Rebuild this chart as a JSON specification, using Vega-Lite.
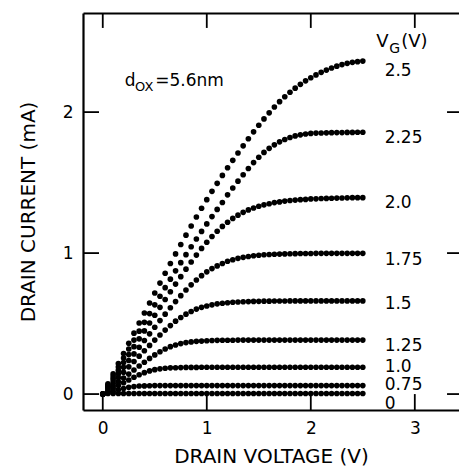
{
"$schema": "https://vega.github.io/schema/vega-lite/v6.json",
"width": 376, "height": 397,
"autosize": {"type": "none"},
"padding": {"left": 83, "top": 13, "right": 0, "bottom": 60},
"background": "white",
"config": {
 "font": "DejaVu Sans",
 "view": {"stroke": null},
 "axis": {"grid": false, "domainColor": "black", "tickColor": "black", "labelColor": "black", "titleColor": "black", "labelFont": "DejaVu Sans", "titleFont": "DejaVu Sans", "labelFontSize": 17, "titleFontSize": 20, "titleFontWeight": "normal", "domainWidth": 2.2, "tickWidth": 1.8}
},
"datasets": {
 "curves": [
{"g":2.5,"v":0,"i":0},{"g":2.5,"v":0.05,"i":0.072},{"g":2.5,"v":0.1,"i":0.144},{"g":2.5,"v":0.15,"i":0.216},{"g":2.5,"v":0.2,"i":0.288},{"g":2.5,"v":0.25,"i":0.36},{"g":2.5,"v":0.3,"i":0.432},{"g":2.5,"v":0.35,"i":0.504},{"g":2.5,"v":0.4,"i":0.575},{"g":2.5,"v":0.45,"i":0.646},
{"g":2.5,"v":0.5,"i":0.717},{"g":2.5,"v":0.55,"i":0.787},{"g":2.5,"v":0.6,"i":0.857},{"g":2.5,"v":0.65,"i":0.926},{"g":2.5,"v":0.7,"i":0.994},{"g":2.5,"v":0.75,"i":1.061},{"g":2.5,"v":0.8,"i":1.127},{"g":2.5,"v":0.85,"i":1.192},{"g":2.5,"v":0.9,"i":1.256},{"g":2.5,"v":0.95,"i":1.318},
{"g":2.5,"v":1,"i":1.379},{"g":2.5,"v":1.05,"i":1.438},{"g":2.5,"v":1.1,"i":1.495},{"g":2.5,"v":1.15,"i":1.551},{"g":2.5,"v":1.2,"i":1.605},{"g":2.5,"v":1.25,"i":1.658},{"g":2.5,"v":1.3,"i":1.71},{"g":2.5,"v":1.35,"i":1.761},{"g":2.5,"v":1.4,"i":1.811},{"g":2.5,"v":1.45,"i":1.86},
{"g":2.5,"v":1.5,"i":1.907},{"g":2.5,"v":1.55,"i":1.952},{"g":2.5,"v":1.6,"i":1.995},{"g":2.5,"v":1.65,"i":2.036},{"g":2.5,"v":1.7,"i":2.074},{"g":2.5,"v":1.75,"i":2.109},{"g":2.5,"v":1.8,"i":2.141},{"g":2.5,"v":1.85,"i":2.17},{"g":2.5,"v":1.9,"i":2.197},{"g":2.5,"v":1.95,"i":2.222},
{"g":2.5,"v":2,"i":2.244},{"g":2.5,"v":2.05,"i":2.264},{"g":2.5,"v":2.1,"i":2.282},{"g":2.5,"v":2.15,"i":2.298},{"g":2.5,"v":2.2,"i":2.313},{"g":2.5,"v":2.25,"i":2.326},{"g":2.5,"v":2.3,"i":2.337},{"g":2.5,"v":2.35,"i":2.346},{"g":2.5,"v":2.4,"i":2.353},{"g":2.5,"v":2.45,"i":2.358},{"g":2.5,"v":2.5,"i":2.362},

{"g":2.25,"v":0,"i":0},{"g":2.25,"v":0.05,"i":0.064},{"g":2.25,"v":0.1,"i":0.128},{"g":2.25,"v":0.15,"i":0.192},{"g":2.25,"v":0.2,"i":0.256},{"g":2.25,"v":0.25,"i":0.32},{"g":2.25,"v":0.3,"i":0.383},{"g":2.25,"v":0.35,"i":0.446},{"g":2.25,"v":0.4,"i":0.509},{"g":2.25,"v":0.45,"i":0.571},
{"g":2.25,"v":0.5,"i":0.633},{"g":2.25,"v":0.55,"i":0.694},{"g":2.25,"v":0.6,"i":0.755},{"g":2.25,"v":0.65,"i":0.815},{"g":2.25,"v":0.7,"i":0.874},{"g":2.25,"v":0.75,"i":0.932},{"g":2.25,"v":0.8,"i":0.989},{"g":2.25,"v":0.85,"i":1.045},{"g":2.25,"v":0.9,"i":1.1},{"g":2.25,"v":0.95,"i":1.154},
{"g":2.25,"v":1,"i":1.207},{"g":2.25,"v":1.05,"i":1.259},{"g":2.25,"v":1.1,"i":1.31},{"g":2.25,"v":1.15,"i":1.359},{"g":2.25,"v":1.2,"i":1.413},{"g":2.25,"v":1.25,"i":1.462},{"g":2.25,"v":1.3,"i":1.51},{"g":2.25,"v":1.35,"i":1.556},{"g":2.25,"v":1.4,"i":1.6},{"g":2.25,"v":1.45,"i":1.642},
{"g":2.25,"v":1.5,"i":1.68},{"g":2.25,"v":1.55,"i":1.714},{"g":2.25,"v":1.6,"i":1.743},{"g":2.25,"v":1.65,"i":1.768},{"g":2.25,"v":1.7,"i":1.789},{"g":2.25,"v":1.75,"i":1.806},{"g":2.25,"v":1.8,"i":1.82},{"g":2.25,"v":1.85,"i":1.831},{"g":2.25,"v":1.9,"i":1.839},{"g":2.25,"v":1.95,"i":1.845},
{"g":2.25,"v":2,"i":1.849},{"g":2.25,"v":2.05,"i":1.851},{"g":2.25,"v":2.1,"i":1.852},{"g":2.25,"v":2.15,"i":1.853},{"g":2.25,"v":2.2,"i":1.854},{"g":2.25,"v":2.25,"i":1.855},{"g":2.25,"v":2.3,"i":1.855},{"g":2.25,"v":2.35,"i":1.856},{"g":2.25,"v":2.4,"i":1.856},{"g":2.25,"v":2.45,"i":1.857},{"g":2.25,"v":2.5,"i":1.857},

{"g":2.0,"v":0,"i":0},{"g":2.0,"v":0.05,"i":0.056},{"g":2.0,"v":0.1,"i":0.112},{"g":2.0,"v":0.15,"i":0.168},{"g":2.0,"v":0.2,"i":0.224},{"g":2.0,"v":0.25,"i":0.28},{"g":2.0,"v":0.3,"i":0.336},{"g":2.0,"v":0.35,"i":0.392},{"g":2.0,"v":0.4,"i":0.448},{"g":2.0,"v":0.45,"i":0.504},
{"g":2.0,"v":0.5,"i":0.559},{"g":2.0,"v":0.55,"i":0.615},{"g":2.0,"v":0.6,"i":0.671},{"g":2.0,"v":0.65,"i":0.726},{"g":2.0,"v":0.7,"i":0.78},{"g":2.0,"v":0.75,"i":0.833},{"g":2.0,"v":0.8,"i":0.886},{"g":2.0,"v":0.85,"i":0.937},{"g":2.0,"v":0.9,"i":0.986},{"g":2.0,"v":0.95,"i":1.033},
{"g":2.0,"v":1,"i":1.077},{"g":2.0,"v":1.05,"i":1.118},{"g":2.0,"v":1.1,"i":1.155},{"g":2.0,"v":1.15,"i":1.189},{"g":2.0,"v":1.2,"i":1.219},{"g":2.0,"v":1.25,"i":1.246},{"g":2.0,"v":1.3,"i":1.269},{"g":2.0,"v":1.35,"i":1.289},{"g":2.0,"v":1.4,"i":1.306},{"g":2.0,"v":1.45,"i":1.32},
{"g":2.0,"v":1.5,"i":1.332},{"g":2.0,"v":1.55,"i":1.342},{"g":2.0,"v":1.6,"i":1.35},{"g":2.0,"v":1.65,"i":1.358},{"g":2.0,"v":1.7,"i":1.363},{"g":2.0,"v":1.75,"i":1.369},{"g":2.0,"v":1.8,"i":1.373},{"g":2.0,"v":1.85,"i":1.376},{"g":2.0,"v":1.9,"i":1.379},{"g":2.0,"v":1.95,"i":1.381},
{"g":2.0,"v":2,"i":1.384},{"g":2.0,"v":2.05,"i":1.385},{"g":2.0,"v":2.1,"i":1.387},{"g":2.0,"v":2.15,"i":1.388},{"g":2.0,"v":2.2,"i":1.389},{"g":2.0,"v":2.25,"i":1.39},{"g":2.0,"v":2.3,"i":1.391},{"g":2.0,"v":2.35,"i":1.392},{"g":2.0,"v":2.4,"i":1.393},{"g":2.0,"v":2.45,"i":1.393},{"g":2.0,"v":2.5,"i":1.393},

{"g":1.75,"v":0,"i":0},{"g":1.75,"v":0.05,"i":0.048},{"g":1.75,"v":0.1,"i":0.095},{"g":1.75,"v":0.15,"i":0.143},{"g":1.75,"v":0.2,"i":0.19},{"g":1.75,"v":0.25,"i":0.238},{"g":1.75,"v":0.3,"i":0.285},{"g":1.75,"v":0.35,"i":0.332},{"g":1.75,"v":0.4,"i":0.38},{"g":1.75,"v":0.45,"i":0.427},
{"g":1.75,"v":0.5,"i":0.474},{"g":1.75,"v":0.55,"i":0.521},{"g":1.75,"v":0.6,"i":0.567},{"g":1.75,"v":0.65,"i":0.612},{"g":1.75,"v":0.7,"i":0.656},{"g":1.75,"v":0.75,"i":0.698},{"g":1.75,"v":0.8,"i":0.738},{"g":1.75,"v":0.85,"i":0.775},{"g":1.75,"v":0.9,"i":0.809},{"g":1.75,"v":0.95,"i":0.84},
{"g":1.75,"v":1,"i":0.867},{"g":1.75,"v":1.05,"i":0.89},{"g":1.75,"v":1.1,"i":0.909},{"g":1.75,"v":1.15,"i":0.926},{"g":1.75,"v":1.2,"i":0.942},{"g":1.75,"v":1.25,"i":0.953},{"g":1.75,"v":1.3,"i":0.963},{"g":1.75,"v":1.35,"i":0.97},{"g":1.75,"v":1.4,"i":0.976},{"g":1.75,"v":1.45,"i":0.981},
{"g":1.75,"v":1.5,"i":0.985},{"g":1.75,"v":1.55,"i":0.988},{"g":1.75,"v":1.6,"i":0.99},{"g":1.75,"v":1.65,"i":0.992},{"g":1.75,"v":1.7,"i":0.993},{"g":1.75,"v":1.75,"i":0.994},{"g":1.75,"v":1.8,"i":0.995},{"g":1.75,"v":1.85,"i":0.996},{"g":1.75,"v":1.9,"i":0.997},{"g":1.75,"v":1.95,"i":0.997},
{"g":1.75,"v":2,"i":0.997},{"g":1.75,"v":2.05,"i":0.998},{"g":1.75,"v":2.1,"i":0.998},{"g":1.75,"v":2.15,"i":0.998},{"g":1.75,"v":2.2,"i":0.998},{"g":1.75,"v":2.25,"i":0.998},{"g":1.75,"v":2.3,"i":0.998},{"g":1.75,"v":2.35,"i":0.998},{"g":1.75,"v":2.4,"i":0.998},{"g":1.75,"v":2.45,"i":0.998},{"g":1.75,"v":2.5,"i":0.998},

{"g":1.5,"v":0,"i":0},{"g":1.5,"v":0.05,"i":0.039},{"g":1.5,"v":0.1,"i":0.077},{"g":1.5,"v":0.15,"i":0.116},{"g":1.5,"v":0.2,"i":0.154},{"g":1.5,"v":0.25,"i":0.193},{"g":1.5,"v":0.3,"i":0.231},{"g":1.5,"v":0.35,"i":0.269},{"g":1.5,"v":0.4,"i":0.307},{"g":1.5,"v":0.45,"i":0.345},
{"g":1.5,"v":0.5,"i":0.383},{"g":1.5,"v":0.55,"i":0.419},{"g":1.5,"v":0.6,"i":0.454},{"g":1.5,"v":0.65,"i":0.486},{"g":1.5,"v":0.7,"i":0.517},{"g":1.5,"v":0.75,"i":0.543},{"g":1.5,"v":0.8,"i":0.567},{"g":1.5,"v":0.85,"i":0.586},{"g":1.5,"v":0.9,"i":0.603},{"g":1.5,"v":0.95,"i":0.615},
{"g":1.5,"v":1,"i":0.625},{"g":1.5,"v":1.05,"i":0.633},{"g":1.5,"v":1.1,"i":0.64},{"g":1.5,"v":1.15,"i":0.644},{"g":1.5,"v":1.2,"i":0.648},{"g":1.5,"v":1.25,"i":0.651},{"g":1.5,"v":1.3,"i":0.653},{"g":1.5,"v":1.35,"i":0.655},{"g":1.5,"v":1.4,"i":0.656},{"g":1.5,"v":1.45,"i":0.657},
{"g":1.5,"v":1.5,"i":0.658},{"g":1.5,"v":1.55,"i":0.659},{"g":1.5,"v":1.6,"i":0.659},{"g":1.5,"v":1.65,"i":0.66},{"g":1.5,"v":1.7,"i":0.66},{"g":1.5,"v":1.75,"i":0.66},{"g":1.5,"v":1.8,"i":0.661},{"g":1.5,"v":1.85,"i":0.661},{"g":1.5,"v":1.9,"i":0.661},{"g":1.5,"v":1.95,"i":0.661},
{"g":1.5,"v":2,"i":0.661},{"g":1.5,"v":2.05,"i":0.661},{"g":1.5,"v":2.1,"i":0.661},{"g":1.5,"v":2.15,"i":0.661},{"g":1.5,"v":2.2,"i":0.661},{"g":1.5,"v":2.25,"i":0.661},{"g":1.5,"v":2.3,"i":0.661},{"g":1.5,"v":2.35,"i":0.661},{"g":1.5,"v":2.4,"i":0.661},{"g":1.5,"v":2.45,"i":0.661},{"g":1.5,"v":2.5,"i":0.661},

{"g":1.25,"v":0,"i":0},{"g":1.25,"v":0.05,"i":0.029},{"g":1.25,"v":0.1,"i":0.057},{"g":1.25,"v":0.15,"i":0.086},{"g":1.25,"v":0.2,"i":0.114},{"g":1.25,"v":0.25,"i":0.142},{"g":1.25,"v":0.3,"i":0.171},{"g":1.25,"v":0.35,"i":0.199},{"g":1.25,"v":0.4,"i":0.226},{"g":1.25,"v":0.45,"i":0.253},
{"g":1.25,"v":0.5,"i":0.278},{"g":1.25,"v":0.55,"i":0.3},{"g":1.25,"v":0.6,"i":0.32},{"g":1.25,"v":0.65,"i":0.336},{"g":1.25,"v":0.7,"i":0.348},{"g":1.25,"v":0.75,"i":0.358},{"g":1.25,"v":0.8,"i":0.365},{"g":1.25,"v":0.85,"i":0.37},{"g":1.25,"v":0.9,"i":0.374},{"g":1.25,"v":0.95,"i":0.376},
{"g":1.25,"v":1,"i":0.378},{"g":1.25,"v":1.05,"i":0.38},{"g":1.25,"v":1.1,"i":0.381},{"g":1.25,"v":1.15,"i":0.382},{"g":1.25,"v":1.2,"i":0.382},{"g":1.25,"v":1.25,"i":0.382},{"g":1.25,"v":1.3,"i":0.383},{"g":1.25,"v":1.35,"i":0.383},{"g":1.25,"v":1.4,"i":0.383},{"g":1.25,"v":1.45,"i":0.383},
{"g":1.25,"v":1.5,"i":0.383},{"g":1.25,"v":1.55,"i":0.383},{"g":1.25,"v":1.6,"i":0.383},{"g":1.25,"v":1.65,"i":0.383},{"g":1.25,"v":1.7,"i":0.383},{"g":1.25,"v":1.75,"i":0.383},{"g":1.25,"v":1.8,"i":0.383},{"g":1.25,"v":1.85,"i":0.383},{"g":1.25,"v":1.9,"i":0.383},{"g":1.25,"v":1.95,"i":0.383},
{"g":1.25,"v":2,"i":0.383},{"g":1.25,"v":2.05,"i":0.383},{"g":1.25,"v":2.1,"i":0.383},{"g":1.25,"v":2.15,"i":0.383},{"g":1.25,"v":2.2,"i":0.383},{"g":1.25,"v":2.25,"i":0.383},{"g":1.25,"v":2.3,"i":0.383},{"g":1.25,"v":2.35,"i":0.383},{"g":1.25,"v":2.4,"i":0.383},{"g":1.25,"v":2.45,"i":0.383},{"g":1.25,"v":2.5,"i":0.383},

{"g":1.0,"v":0,"i":0},{"g":1.0,"v":0.05,"i":0.02},{"g":1.0,"v":0.1,"i":0.04},{"g":1.0,"v":0.15,"i":0.06},{"g":1.0,"v":0.2,"i":0.08},{"g":1.0,"v":0.25,"i":0.1},{"g":1.0,"v":0.3,"i":0.119},{"g":1.0,"v":0.35,"i":0.137},{"g":1.0,"v":0.4,"i":0.152},{"g":1.0,"v":0.45,"i":0.164},
{"g":1.0,"v":0.5,"i":0.173},{"g":1.0,"v":0.55,"i":0.179},{"g":1.0,"v":0.6,"i":0.183},{"g":1.0,"v":0.65,"i":0.186},{"g":1.0,"v":0.7,"i":0.187},{"g":1.0,"v":0.75,"i":0.188},{"g":1.0,"v":0.8,"i":0.189},{"g":1.0,"v":0.85,"i":0.189},{"g":1.0,"v":0.9,"i":0.189},{"g":1.0,"v":0.95,"i":0.19},
{"g":1.0,"v":1,"i":0.19},{"g":1.0,"v":1.05,"i":0.19},{"g":1.0,"v":1.1,"i":0.19},{"g":1.0,"v":1.15,"i":0.19},{"g":1.0,"v":1.2,"i":0.19},{"g":1.0,"v":1.25,"i":0.19},{"g":1.0,"v":1.3,"i":0.19},{"g":1.0,"v":1.35,"i":0.19},{"g":1.0,"v":1.4,"i":0.19},{"g":1.0,"v":1.45,"i":0.19},
{"g":1.0,"v":1.5,"i":0.19},{"g":1.0,"v":1.55,"i":0.19},{"g":1.0,"v":1.6,"i":0.19},{"g":1.0,"v":1.65,"i":0.19},{"g":1.0,"v":1.7,"i":0.19},{"g":1.0,"v":1.75,"i":0.19},{"g":1.0,"v":1.8,"i":0.19},{"g":1.0,"v":1.85,"i":0.19},{"g":1.0,"v":1.9,"i":0.19},{"g":1.0,"v":1.95,"i":0.19},
{"g":1.0,"v":2,"i":0.19},{"g":1.0,"v":2.05,"i":0.19},{"g":1.0,"v":2.1,"i":0.19},{"g":1.0,"v":2.15,"i":0.19},{"g":1.0,"v":2.2,"i":0.19},{"g":1.0,"v":2.25,"i":0.19},{"g":1.0,"v":2.3,"i":0.19},{"g":1.0,"v":2.35,"i":0.19},{"g":1.0,"v":2.4,"i":0.19},{"g":1.0,"v":2.45,"i":0.19},{"g":1.0,"v":2.5,"i":0.19},

{"g":0.75,"v":0,"i":0},{"g":0.75,"v":0.05,"i":0.01},{"g":0.75,"v":0.1,"i":0.02},{"g":0.75,"v":0.15,"i":0.03},{"g":0.75,"v":0.2,"i":0.039},{"g":0.75,"v":0.25,"i":0.048},{"g":0.75,"v":0.3,"i":0.053},{"g":0.75,"v":0.35,"i":0.057},{"g":0.75,"v":0.4,"i":0.058},{"g":0.75,"v":0.45,"i":0.059},
{"g":0.75,"v":0.5,"i":0.06},{"g":0.75,"v":0.55,"i":0.06},{"g":0.75,"v":0.6,"i":0.06},{"g":0.75,"v":0.65,"i":0.06},{"g":0.75,"v":0.7,"i":0.06},{"g":0.75,"v":0.75,"i":0.06},{"g":0.75,"v":0.8,"i":0.06},{"g":0.75,"v":0.85,"i":0.06},{"g":0.75,"v":0.9,"i":0.06},{"g":0.75,"v":0.95,"i":0.06},
{"g":0.75,"v":1,"i":0.06},{"g":0.75,"v":1.05,"i":0.06},{"g":0.75,"v":1.1,"i":0.06},{"g":0.75,"v":1.15,"i":0.06},{"g":0.75,"v":1.2,"i":0.06},{"g":0.75,"v":1.25,"i":0.06},{"g":0.75,"v":1.3,"i":0.06},{"g":0.75,"v":1.35,"i":0.06},{"g":0.75,"v":1.4,"i":0.06},{"g":0.75,"v":1.45,"i":0.06},
{"g":0.75,"v":1.5,"i":0.06},{"g":0.75,"v":1.55,"i":0.06},{"g":0.75,"v":1.6,"i":0.06},{"g":0.75,"v":1.65,"i":0.06},{"g":0.75,"v":1.7,"i":0.06},{"g":0.75,"v":1.75,"i":0.06},{"g":0.75,"v":1.8,"i":0.06},{"g":0.75,"v":1.85,"i":0.06},{"g":0.75,"v":1.9,"i":0.06},{"g":0.75,"v":1.95,"i":0.06},
{"g":0.75,"v":2,"i":0.06},{"g":0.75,"v":2.05,"i":0.06},{"g":0.75,"v":2.1,"i":0.06},{"g":0.75,"v":2.15,"i":0.06},{"g":0.75,"v":2.2,"i":0.06},{"g":0.75,"v":2.25,"i":0.06},{"g":0.75,"v":2.3,"i":0.06},{"g":0.75,"v":2.35,"i":0.06},{"g":0.75,"v":2.4,"i":0.06},{"g":0.75,"v":2.45,"i":0.06},{"g":0.75,"v":2.5,"i":0.06},

{"g":0,"v":0,"i":0},{"g":0,"v":0.05,"i":0.004},{"g":0,"v":0.1,"i":0.004},{"g":0,"v":0.15,"i":0.004},{"g":0,"v":0.2,"i":0.004},{"g":0,"v":0.25,"i":0.004},{"g":0,"v":0.3,"i":0.004},{"g":0,"v":0.35,"i":0.004},{"g":0,"v":0.4,"i":0.004},{"g":0,"v":0.45,"i":0.004},
{"g":0,"v":0.5,"i":0.004},{"g":0,"v":0.55,"i":0.004},{"g":0,"v":0.6,"i":0.004},{"g":0,"v":0.65,"i":0.004},{"g":0,"v":0.7,"i":0.004},{"g":0,"v":0.75,"i":0.004},{"g":0,"v":0.8,"i":0.004},{"g":0,"v":0.85,"i":0.004},{"g":0,"v":0.9,"i":0.004},{"g":0,"v":0.95,"i":0.004},
{"g":0,"v":1,"i":0.004},{"g":0,"v":1.05,"i":0.004},{"g":0,"v":1.1,"i":0.004},{"g":0,"v":1.15,"i":0.004},{"g":0,"v":1.2,"i":0.004},{"g":0,"v":1.25,"i":0.004},{"g":0,"v":1.3,"i":0.004},{"g":0,"v":1.35,"i":0.004},{"g":0,"v":1.4,"i":0.004},{"g":0,"v":1.45,"i":0.004},
{"g":0,"v":1.5,"i":0.004},{"g":0,"v":1.55,"i":0.004},{"g":0,"v":1.6,"i":0.004},{"g":0,"v":1.65,"i":0.004},{"g":0,"v":1.7,"i":0.004},{"g":0,"v":1.75,"i":0.004},{"g":0,"v":1.8,"i":0.004},{"g":0,"v":1.85,"i":0.004},{"g":0,"v":1.9,"i":0.004},{"g":0,"v":1.95,"i":0.004},
{"g":0,"v":2,"i":0.004},{"g":0,"v":2.05,"i":0.004},{"g":0,"v":2.1,"i":0.004},{"g":0,"v":2.15,"i":0.004},{"g":0,"v":2.2,"i":0.004},{"g":0,"v":2.25,"i":0.004},{"g":0,"v":2.3,"i":0.004},{"g":0,"v":2.35,"i":0.004},{"g":0,"v":2.4,"i":0.004},{"g":0,"v":2.45,"i":0.004},{"g":0,"v":2.5,"i":0.004}
 ],
 "xticks": [{"v":0},{"v":1},{"v":2},{"v":3}],
 "yticks": [{"i":0},{"i":1},{"i":2}],
 "vglabels": [
  {"x":2.71,"y":2.255,"t":"2.5"},{"x":2.71,"y":1.783,"t":"2.25"},{"x":2.71,"y":1.32,"t":"2.0"},{"x":2.71,"y":0.915,"t":"1.75"},{"x":2.71,"y":0.603,"t":"1.5"},{"x":2.71,"y":0.308,"t":"1.25"},{"x":2.71,"y":0.155,"t":"1.0"},{"x":2.71,"y":0.031,"t":"0.75"},{"x":2.71,"y":-0.107,"t":"0"}
 ],
 "vgtitle": [
  {"x":2.63,"y":2.461,"t":"V"},{"x":2.87,"y":2.461,"t":"(V)"}
 ],
 "vgsub": [
  {"x":2.755,"y":2.42,"t":"G"}
 ],
 "doxtext": [
  {"x":0.212,"y":2.184,"t":"d"},{"x":0.505,"y":2.184,"t":"=5.6nm"}
 ],
 "doxsub": [
  {"x":0.31,"y":2.149,"t":"OX"}
 ]
},
"resolve": {"axis": {"x": "independent", "y": "independent"}},
"layer": [
 {
  "data": {"name": "curves"},
  "mark": {"type": "circle", "size": 32, "color": "black", "opacity": 1},
  "encoding": {
   "x": {"field": "v", "type": "quantitative", "scale": {"domain": [-0.19, 3.425], "nice": false, "zero": false},
         "axis": {"orient": "bottom", "values": [0, 1, 2, 3], "format": "d", "tickSize": -16, "tickOpacity": 0, "labelPadding": 26, "title": "DRAIN VOLTAGE (V)", "titlePadding": 10, "labelFlush": false}},
   "y": {"field": "i", "type": "quantitative", "scale": {"domain": [-0.113, 2.703], "nice": false, "zero": false},
         "axis": {"orient": "left", "values": [0, 1, 2], "format": "d", "tickSize": -16, "tickOpacity": 0, "labelPadding": 26, "title": "DRAIN CURRENT (mA)", "titlePadding": 24, "labelFlush": false}}
  }
 },
 {
  "data": {"name": "xticks"},
  "mark": {"type": "point", "opacity": 0},
  "encoding": {
   "x": {"field": "v", "type": "quantitative", "scale": {"domain": [-0.19, 3.425], "nice": false, "zero": false},
         "axis": {"orient": "top", "values": [0, 1, 2, 3], "ticks": false, "labels": false, "title": null}}
  }
 },
 {
  "data": {"name": "xticks"},
  "mark": {"type": "rule", "color": "black", "strokeWidth": 1.8},
  "encoding": {
   "x": {"field": "v", "type": "quantitative", "scale": {"domain": [-0.19, 3.425], "nice": false, "zero": false}, "axis": null},
   "y": {"datum": 2.703, "type": "quantitative", "scale": {"domain": [-0.113, 2.703], "nice": false, "zero": false}, "axis": null},
   "y2": {"datum": 2.597}
  }
 },
 {
  "data": {"name": "xticks"},
  "mark": {"type": "rule", "color": "black", "strokeWidth": 1.8},
  "encoding": {
   "x": {"field": "v", "type": "quantitative", "scale": {"domain": [-0.19, 3.425], "nice": false, "zero": false}, "axis": null},
   "y": {"datum": -0.113, "type": "quantitative", "scale": {"domain": [-0.113, 2.703], "nice": false, "zero": false}, "axis": null},
   "y2": {"datum": 0.0}
  }
 },
 {
  "data": {"name": "yticks"},
  "mark": {"type": "rule", "color": "black", "strokeWidth": 1.8},
  "encoding": {
   "y": {"field": "i", "type": "quantitative", "scale": {"domain": [-0.113, 2.703], "nice": false, "zero": false}, "axis": null},
   "x": {"datum": -0.19, "type": "quantitative", "scale": {"domain": [-0.19, 3.425], "nice": false, "zero": false}, "axis": null},
   "x2": {"datum": -0.036}
  }
 },
 {
  "data": {"name": "yticks"},
  "mark": {"type": "rule", "color": "black", "strokeWidth": 1.8},
  "encoding": {
   "y": {"field": "i", "type": "quantitative", "scale": {"domain": [-0.113, 2.703], "nice": false, "zero": false}, "axis": null},
   "x": {"datum": 3.425, "type": "quantitative", "scale": {"domain": [-0.19, 3.425], "nice": false, "zero": false}, "axis": null},
   "x2": {"datum": 3.31}
  }
 },
 {
  "data": {"name": "vglabels"},
  "mark": {"type": "text", "align": "left", "baseline": "alphabetic", "fontSize": 17, "font": "DejaVu Sans", "color": "black"},
  "encoding": {
   "x": {"field": "x", "type": "quantitative", "scale": {"domain": [-0.19, 3.425], "nice": false, "zero": false}, "axis": null},
   "y": {"field": "y", "type": "quantitative", "scale": {"domain": [-0.113, 2.703], "nice": false, "zero": false}, "axis": null},
   "text": {"field": "t"}
  }
 },
 {
  "data": {"name": "vgtitle"},
  "mark": {"type": "text", "align": "left", "baseline": "alphabetic", "fontSize": 18, "font": "DejaVu Sans", "color": "black"},
  "encoding": {
   "x": {"field": "x", "type": "quantitative", "scale": {"domain": [-0.19, 3.425], "nice": false, "zero": false}, "axis": null},
   "y": {"field": "y", "type": "quantitative", "scale": {"domain": [-0.113, 2.703], "nice": false, "zero": false}, "axis": null},
   "text": {"field": "t"}
  }
 },
 {
  "data": {"name": "vgsub"},
  "mark": {"type": "text", "align": "left", "baseline": "alphabetic", "fontSize": 14, "font": "DejaVu Sans", "color": "black"},
  "encoding": {
   "x": {"field": "x", "type": "quantitative", "scale": {"domain": [-0.19, 3.425], "nice": false, "zero": false}, "axis": null},
   "y": {"field": "y", "type": "quantitative", "scale": {"domain": [-0.113, 2.703], "nice": false, "zero": false}, "axis": null},
   "text": {"field": "t"}
  }
 },
 {
  "data": {"name": "doxtext"},
  "mark": {"type": "text", "align": "left", "baseline": "alphabetic", "fontSize": 17, "font": "DejaVu Sans", "color": "black"},
  "encoding": {
   "x": {"field": "x", "type": "quantitative", "scale": {"domain": [-0.19, 3.425], "nice": false, "zero": false}, "axis": null},
   "y": {"field": "y", "type": "quantitative", "scale": {"domain": [-0.113, 2.703], "nice": false, "zero": false}, "axis": null},
   "text": {"field": "t"}
  }
 },
 {
  "data": {"name": "doxsub"},
  "mark": {"type": "text", "align": "left", "baseline": "alphabetic", "fontSize": 13, "font": "DejaVu Sans", "color": "black"},
  "encoding": {
   "x": {"field": "x", "type": "quantitative", "scale": {"domain": [-0.19, 3.425], "nice": false, "zero": false}, "axis": null},
   "y": {"field": "y", "type": "quantitative", "scale": {"domain": [-0.113, 2.703], "nice": false, "zero": false}, "axis": null},
   "text": {"field": "t"}
  }
 }
]
}
